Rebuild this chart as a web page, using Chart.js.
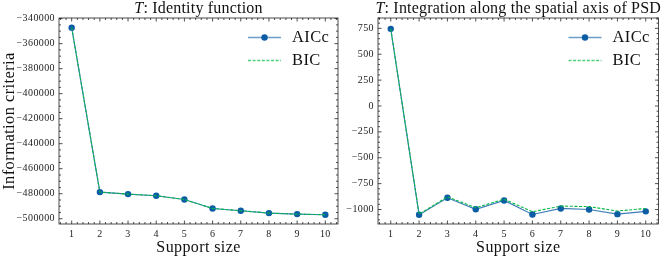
<!DOCTYPE html>
<html><head><meta charset="utf-8">
<script src="https://cdn.jsdelivr.net/npm/chart.js@4.4.0/dist/chart.umd.min.js"></script>
<style>
html,body{margin:0;padding:0;background:#fff;width:664px;height:257px;overflow:hidden;}
.c{position:absolute;top:0;height:257px;}
#w1{left:0;width:345px;} #w2{left:340px;width:324px;}
</style></head><body>
<div class="c" id="w1"><canvas id="c1"></canvas></div>
<div class="c" id="w2"><canvas id="c2"></canvas></div>
<script>
const supportSize = [1,2,3,4,5,6,7,8,9,10];
const aiccIdentity = [-347200,-478700,-480300,-481600,-484600,-491800,-493600,-495500,-496300,-496800];
const bicIdentity  = [-347200,-478700,-480300,-481600,-484600,-491800,-493600,-495500,-496300,-496800];
const aiccPSD = [745,-1050,-887,-998,-913,-1048,-990,-1000,-1045,-1018];
const bicPSD  = [745,-1045,-878,-983,-900,-1022,-967,-972,-1015,-990];
const xTicks = [1,2,3,4,5,6,7,8,9,10];
const yTicksIdentity = [-500000,-480000,-460000,-440000,-420000,-400000,-380000,-360000,-340000];
const yTicksPSD = [-1000,-750,-500,-250,0,250,500,750];
const titles = ["Identity function","Integration along the spatial axis of PSD"];

const SERIF = "'Liberation Serif','DejaVu Serif',serif";
const BLUE = '#0C5DA5', GREEN = '#00B945';
const fmt = v => (v<0?'\u2212':'') + Math.abs(v);

function tickPlugin(yMinorStep, yMajor, titleText){
  return {
    id:'deco',
    beforeDraw(chart){ chart.ctx.letterSpacing='0.4px'; },
    afterDraw(chart){
      const ctx = chart.ctx, a = chart.chartArea;
      const xs = chart.scales.x, ys = chart.scales.y;
      ctx.save();
      ctx.strokeStyle = '#222'; ctx.lineWidth = 0.8;
      ctx.strokeRect(a.left, a.top, a.right-a.left, a.bottom-a.top);
      const tk = (x1,y1,x2,y2)=>{ctx.beginPath();ctx.moveTo(x1,y1);ctx.lineTo(x2,y2);ctx.stroke();};
      for(const v of xTicks){const p=xs.getPixelForValue(v); tk(p,a.bottom,p,a.bottom-3.5); tk(p,a.top,p,a.top+3.5);}
      for(let i=Math.ceil(xs.min*5); i<=Math.floor(xs.max*5); i++){ if(i%5===0) continue; const p=xs.getPixelForValue(i/5); tk(p,a.bottom,p,a.bottom-2); tk(p,a.top,p,a.top+2);}
      for(const v of yMajor){const p=ys.getPixelForValue(v); tk(a.left,p,a.left+3.5,p); tk(a.right,p,a.right-3.5,p);}
      for(let i=Math.ceil(ys.min/yMinorStep); i<=Math.floor(ys.max/yMinorStep); i++){ const v=i*yMinorStep; if(yMajor.includes(v)) continue; const p=ys.getPixelForValue(v); tk(a.left,p,a.left+2,p); tk(a.right,p,a.right-2,p);}
      // title
      ctx.fillStyle='#111'; ctx.textBaseline='middle'; ctx.letterSpacing='0.2px';
      const f1 = 'italic 16px '+SERIF, f2 = '16px '+SERIF;
      ctx.font=f1; const w1=ctx.measureText('T').width;
      ctx.font=f2; const w2=ctx.measureText(': '+titleText).width;
      const cx=(a.left+a.right)/2, x0=cx-(w1+w2)/2;
      ctx.textAlign='left';
      ctx.font=f1; ctx.fillText('T',x0,9);
      ctx.font=f2; ctx.fillText(': '+titleText,x0+w1,9);
      // legend
      ctx.letterSpacing='0.4px';
      const ds = chart.data.datasets;
      const rows=[37.5,60.5];
      ds.forEach((d,i)=>{
        const y=rows[i], lx1=a.right-90, lx2=a.right-57;
        ctx.strokeStyle=d.legendColor||d.borderColor; ctx.lineWidth=d.borderWidth+0.3; ctx.setLineDash(d.borderDash||[]);
        tk(lx1,y,lx2,y); ctx.setLineDash([]);
        if(d.pointRadius>0){ctx.fillStyle=d.pointBackgroundColor;ctx.beginPath();ctx.arc((lx1+lx2)/2,y,d.pointRadius,0,Math.PI*2);ctx.fill();}
        ctx.fillStyle='#111'; ctx.font='16.5px '+SERIF; ctx.textAlign='left'; ctx.fillText(d.label,a.right-46,y+0.5);
      });
      ctx.restore();
    }
  };
}

function makeChart(id, aicc, bic, yMin, yMax, yMajor, yMinorStep, yWidth, padRight, titleText, yTitle){
  return new Chart(document.getElementById(id), {
    type:'line',
    data:{datasets:[
      {label:'AICc', data:supportSize.map((x,i)=>({x, y:aicc[i]})), borderColor:'rgba(12,93,165,0.8)', legendColor:'rgba(12,93,165,0.6)', borderWidth:1.2,
       pointRadius:3.2, pointBackgroundColor:BLUE, pointBorderColor:BLUE, pointBorderWidth:0, order:2},
      {label:'BIC', data:supportSize.map((x,i)=>({x, y:bic[i]})), borderColor:GREEN, legendColor:'rgba(0,185,69,0.7)', borderWidth:1.1, borderDash:[3,1.6],
       pointRadius:0, order:1}
    ]},
    options:{
      responsive:true, maintainAspectRatio:false, animation:false,
      layout:{padding:{top:18,right:padRight,left:0,bottom:0}},
      plugins:{legend:{display:false}, tooltip:{enabled:false}},
      scales:{
        x:{type:'linear', min:0.55, max:10.45,
           grid:{display:false, drawTicks:false}, border:{display:false},
           afterBuildTicks:s=>{s.ticks=xTicks.map(v=>({value:v}));},
           afterFit:s=>{s.height=33;},
           ticks:{padding:4, color:'#222', font:{family:SERIF,size:10}, maxRotation:0, autoSkip:false, callback:v=>String(v)},
           title:{display:true, text:'Support size', color:'#111', font:{family:SERIF,size:16}, padding:{top:0,bottom:0}}},
        y:{type:'linear', min:yMin, max:yMax,
           grid:{display:false, drawTicks:false}, border:{display:false},
           afterBuildTicks:s=>{s.ticks=yMajor.map(v=>({value:v}));},
           afterFit:s=>{s.width=yWidth;},
           ticks:{padding:4, color:'#222', font:{family:SERIF,size:10}, autoSkip:false, callback:v=>fmt(v)},
           title:{display:!!yTitle, text:yTitle||'', color:'#111', font:{family:SERIF,size:16.5}, padding:{top:0,bottom:0}}}
      }
    },
    plugins:[tickPlugin(yMinorStep, yMajor, titleText)]
  });
}
makeChart('c1', aiccIdentity, bicIdentity, -504200, -339500, yTicksIdentity, 5000, 59, 7, titles[0], 'Information criteria');
makeChart('c2', aiccPSD, bicPSD, -1140, 850, yTicksPSD, 50, 38, 5.5, titles[1], null);
</script></body></html>
